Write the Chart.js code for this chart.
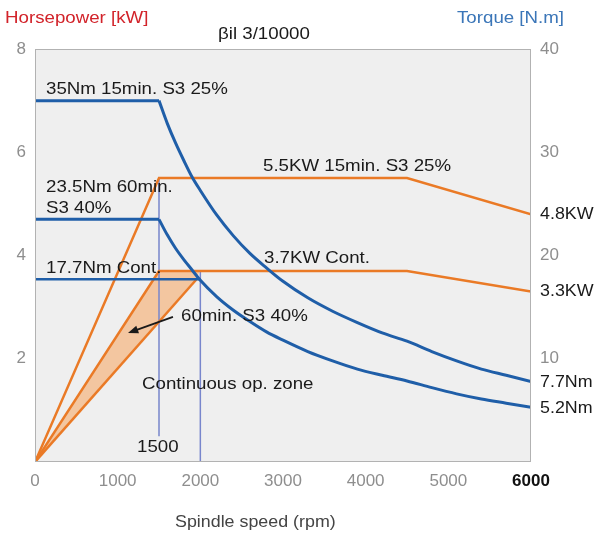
<!DOCTYPE html>
<html>
<head>
<meta charset="utf-8">
<script src="https://cdn.jsdelivr.net/npm/chart.js@4/dist/chart.umd.min.js"></script>
<style>
  html,body{margin:0;padding:0;background:#fff;}
  #wrap{width:601px;height:539px;position:relative;}
</style>
</head>
<body>
<div id="wrap"><canvas id="c" width="601" height="539"></canvas></div>
<script>
// ---- data ----
const speedTicks = [0, 1000, 2000, 3000, 4000, 5000, 6000];
const powerTicks = [2, 4, 6, 8];
const torqueTicks = [10, 20, 30, 40];

// torque curves (N.m) vs spindle speed (rpm)
const t35Rpm = [0, 1500, 1600, 1700, 1800, 1900, 2000, 2200, 2400, 2600, 2800, 3000, 3300, 3600, 3900, 4200, 4500, 4800, 5100, 5400, 5700, 6000];
const t35Nm  = [35, 35, 32.8, 30.9, 29.2, 27.6, 26.3, 23.9, 21.9, 20.2, 18.8, 17.5, 15.9, 14.6, 13.5, 12.5, 11.7, 10.7, 9.8, 9.0, 8.4, 7.8];
const t23Rpm = [0, 1500, 1600, 1700, 1800, 1900, 2000, 2200, 2400, 2600, 2800, 3000, 3300, 3600, 3900, 4200, 4500, 4800, 5100, 5400, 5700, 6000];
const t23Nm  = [23.5, 23.5, 22.0, 20.7, 19.6, 18.6, 17.6, 16.0, 14.7, 13.6, 12.6, 11.8, 10.7, 9.8, 9.0, 8.4, 7.85, 7.2, 6.6, 6.1, 5.7, 5.3];
const t17Rpm = [0, 2000];
const t17Nm  = [17.7, 17.7];

// power curves (kW)
const p55Rpm = [0, 1500, 4500, 6000];
const p55kW  = [0, 5.5, 5.5, 4.8];
const p37Rpm = [0, 1500, 4500, 6000];
const p37kW  = [0, 3.7, 3.7, 3.3];
const contRpm = [0, 1960];
const contkW  = [0, 3.55];
const zoneRpm = [0, 1500, 1990, 1960, 0];
const zonekW  = [0, 3.7, 3.7, 3.55, 0];

// reference verticals
const v1500Rpm = [1500, 1500];
const v1500kW  = [5.5, 0.5];
const v2000Rpm = [2000, 2000];
const v2000kW  = [3.7, 0];

const pts = (xs, ys) => xs.map((x, i) => ({x: x, y: ys[i]}));

const ORANGE = '#ea7a26';
const BLUE = '#1f5ea8';
const VLINE = '#7886cc';
const FONT = "'Liberation Sans', Arial, sans-serif";

// annotation texts (data coordinates: rpm, kW)
const notes = [
  {t: '35Nm 15min. S3 25%', x: 133, y: 7.21},
  {t: '5.5KW 15min. S3 25%', x: 2758, y: 5.72},
  {t: '23.5Nm 60min.', x: 133, y: 5.33},
  {t: 'S3 40%', x: 133, y: 4.92},
  {t: '3.7KW Cont.', x: 2770, y: 3.95},
  {t: '17.7Nm Cont.', x: 133, y: 3.76},
  {t: '60min. S3 40%', x: 1766, y: 2.83},
  {t: 'Continuous op. zone', x: 1294, y: 1.51},
  {t: '1500', x: 1234, y: 0.29}
];
const endPower = [{t: '4.8KW', v: 4.8}, {t: '3.3KW', v: 3.3}];
const endTorque = [{t: '7.7Nm', v: 7.7}, {t: '5.2Nm', v: 5.2}];

function stretchText(ctx, text, x, y, sx) {
  ctx.save();
  ctx.translate(x, y);
  ctx.scale(sx, 1);
  ctx.fillText(text, 0, 0);
  ctx.restore();
}

const decor = {
  id: 'decor',
  beforeDatasetsDraw(chart) {
    const a = chart.chartArea, ctx = chart.ctx;
    ctx.save();
    ctx.fillStyle = '#efefef';
    ctx.fillRect(a.left, a.top, a.right - a.left, a.bottom - a.top);
    ctx.restore();
  },
  afterDatasetsDraw(chart) {
    const a = chart.chartArea, ctx = chart.ctx;
    const sx = chart.scales.x, sy = chart.scales.y, st = chart.scales.yT;
    ctx.save();
    ctx.strokeStyle = '#b2b2b2';
    ctx.lineWidth = 1;
    ctx.strokeRect(a.left + 0.5, a.top + 0.5, a.right - a.left - 1, a.bottom - a.top - 1);

    // arrow
    const x1 = sx.getPixelForValue(1669), y1 = sy.getPixelForValue(2.81);
    const x2 = sx.getPixelForValue(1125), y2 = sy.getPixelForValue(2.5);
    ctx.strokeStyle = '#1a1a1a';
    ctx.fillStyle = '#1a1a1a';
    ctx.lineWidth = 1.8;
    ctx.beginPath(); ctx.moveTo(x1, y1); ctx.lineTo(x2 + 6, y2 - 2); ctx.stroke();
    const ang = Math.atan2(y2 - y1, x2 - x1);
    ctx.beginPath();
    ctx.moveTo(x2, y2);
    ctx.lineTo(x2 - 11 * Math.cos(ang - 0.38), y2 - 11 * Math.sin(ang - 0.38));
    ctx.lineTo(x2 - 11 * Math.cos(ang + 0.38), y2 - 11 * Math.sin(ang + 0.38));
    ctx.closePath(); ctx.fill();

    // annotations
    ctx.textBaseline = 'middle';
    ctx.textAlign = 'left';
    ctx.font = '17px ' + FONT;
    ctx.fillStyle = '#1a1a1a';
    notes.forEach(n => stretchText(ctx, n.t, sx.getPixelForValue(n.x), sy.getPixelForValue(n.y), 1.1));
    endPower.forEach(n => stretchText(ctx, n.t, a.right + 9, sy.getPixelForValue(n.v), 1.05));
    endTorque.forEach(n => stretchText(ctx, n.t, a.right + 9, st.getPixelForValue(n.v), 1.05));

    // titles
    ctx.font = '17px ' + FONT;
    ctx.fillStyle = '#d2232a';
    stretchText(ctx, 'Horsepower [kW]', 5, 18, 1.1);
    ctx.fillStyle = '#3b76b8';
    stretchText(ctx, 'Torque [N.m]', 457, 18, 1.1);
    ctx.fillStyle = '#1a1a1a';
    stretchText(ctx, 'βil 3/10000', 218, 34, 1.1);
    ctx.fillStyle = '#444';
    stretchText(ctx, 'Spindle speed (rpm)', 175, 522, 1.05);
    ctx.restore();
  }
};

const ds = (label, xs, ys, color, width, axis, extra) => Object.assign({
  label: label,
  data: pts(xs, ys),
  borderColor: color,
  borderWidth: width,
  pointRadius: 0,
  fill: false,
  tension: 0,
  yAxisID: axis
}, extra || {});

// flat part (first two points) and curved part (from 1500 rpm on) of each torque curve
const smooth = {cubicInterpolationMode: 'monotone', order: 1};

new Chart(document.getElementById('c'), {
  type: 'line',
  data: {
    datasets: [
      ds('35Nm flat', t35Rpm.slice(0, 2), t35Nm.slice(0, 2), BLUE, 3, 'yT', {order: 1}),
      ds('35Nm', t35Rpm.slice(1), t35Nm.slice(1), BLUE, 3, 'yT', smooth),
      ds('23.5Nm flat', t23Rpm.slice(0, 2), t23Nm.slice(0, 2), BLUE, 3, 'yT', {order: 1}),
      ds('23.5Nm', t23Rpm.slice(1), t23Nm.slice(1), BLUE, 3, 'yT', smooth),
      ds('17.7Nm', t17Rpm, t17Nm, BLUE, 2.5, 'yT', {order: 2}),
      ds('5.5kW', p55Rpm, p55kW, ORANGE, 2.5, 'y', {order: 3}),
      ds('3.7kW', p37Rpm, p37kW, ORANGE, 2.5, 'y', {order: 3}),
      ds('cont', contRpm, contkW, ORANGE, 2.5, 'y', {order: 3}),
      ds('v1500', v1500Rpm, v1500kW, VLINE, 1.5, 'y', {order: 4}),
      ds('v2000', v2000Rpm, v2000kW, VLINE, 1.5, 'y', {order: 4}),
      ds('zone', zoneRpm, zonekW, 'rgba(0,0,0,0)', 0, 'y', {order: 9, fill: 'shape', backgroundColor: '#f3c6a0'})
    ]
  },
  options: {
    responsive: false,
    animation: false,
    events: [],
    layout: {padding: {top: 49, left: 0, right: 0, bottom: 0}},
    plugins: {legend: {display: false}, tooltip: {enabled: false}},
    scales: {
      x: {
        type: 'linear', min: 0, max: 6000,
        afterFit: s => { s.height = 77; },
        afterBuildTicks: s => { s.ticks = speedTicks.map(v => ({value: v})); },
        grid: {display: false, drawTicks: false},
        border: {display: false},
        ticks: {
          padding: 9,
          maxRotation: 0,
          callback: v => String(v),
          color: c => c.tick && c.tick.value === 6000 ? '#111' : '#8e8e8e',
          font: c => ({family: FONT, size: 17, weight: c.tick && c.tick.value === 6000 ? 'bold' : 'normal'})
        }
      },
      y: {
        type: 'linear', position: 'left', min: 0, max: 8,
        afterFit: s => { s.width = 35; },
        afterBuildTicks: s => { s.ticks = powerTicks.map(v => ({value: v})); },
        grid: {display: false, drawTicks: false},
        border: {display: false},
        ticks: {padding: 9, callback: v => String(v), color: '#8e8e8e', font: {family: FONT, size: 17}}
      },
      yT: {
        type: 'linear', position: 'right', min: 0, max: 40,
        afterFit: s => { s.width = 70; },
        afterBuildTicks: s => { s.ticks = torqueTicks.map(v => ({value: v})); },
        grid: {display: false, drawTicks: false},
        border: {display: false},
        ticks: {padding: 9, callback: v => String(v), color: '#8e8e8e', font: {family: FONT, size: 17}}
      }
    }
  },
  plugins: [decor]
});
</script>
</body>
</html>
